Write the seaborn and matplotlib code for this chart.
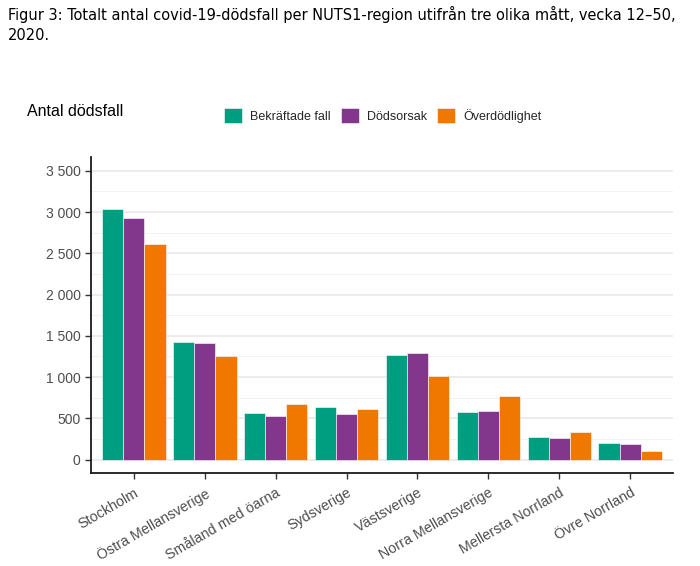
import matplotlib
matplotlib.use("Agg")
import matplotlib.pyplot as plt
import seaborn as sns
import pandas as pd
from matplotlib.ticker import FuncFormatter, MultipleLocator

regions = ["Stockholm", "Östra Mellansverige", "Småland med öarna", "Sydsverige",
           "Västsverige", "Norra Mellansverige", "Mellersta Norrland", "Övre Norrland"]
series = ["Bekräftade fall", "Dödsorsak", "Överdödlighet"]
bekraftade = [3040, 1420, 562, 638, 1268, 581, 275, 199]
dodsorsak = [2922, 1409, 533, 550, 1295, 593, 266, 186]
overdodlighet = [2617, 1252, 678, 614, 1010, 768, 332, 109]
colors = ["#009E80", "#82368C", "#F07800"]

rows = []
for s, vals in zip(series, [bekraftade, dodsorsak, overdodlighet]):
    for r, v in zip(regions, vals):
        rows.append({"Region": r, "Mått": s, "Antal": v})
df = pd.DataFrame(rows)

sns.set_theme(style="white")
plt.rcParams["font.family"] = ["Liberation Sans", "DejaVu Sans"]

W, H = 700, 566
fig = plt.figure(figsize=(W / 100, H / 100), dpi=100)
ax = fig.add_axes([91 / W, (H - 473.3) / H, (673 - 91) / W, (473.3 - 156.7) / H])

sns.barplot(data=df, x="Region", y="Antal", hue="Mått", order=regions, hue_order=series,
            palette=colors, width=0.9, errorbar=None, ax=ax, saturation=1,
            edgecolor="white", linewidth=0.4, zorder=3)

ax.set_xlim(-0.6, 7.6)
ax.set_ylim(-165, 3670)
ax.yaxis.set_major_locator(MultipleLocator(500))
ax.yaxis.set_minor_locator(MultipleLocator(250))
ax.yaxis.set_major_formatter(FuncFormatter(lambda v, p: f"{int(v):,}".replace(",", " ")))
ax.grid(axis="y", which="major", color="#EBEBEB", linewidth=1.3, zorder=0)
ax.grid(axis="y", which="minor", color="#F2F2F2", linewidth=0.7, zorder=0)
ax.set_axisbelow(True)
ax.set_xlabel("")
ax.set_ylabel("")
for s in ["top", "right"]:
    ax.spines[s].set_visible(False)
for s in ["left", "bottom"]:
    ax.spines[s].set_color("#1a1a1a")
    ax.spines[s].set_linewidth(1.3)
ax.tick_params(axis="both", which="major", length=4, width=1, color="#333333",
               labelcolor="#4D4D4D", labelsize=10, direction="out", left=True, bottom=True)
ax.tick_params(axis="x", which="major", labelsize=10.3, pad=5)
ax.tick_params(axis="y", which="minor", length=0)
plt.setp(ax.get_xticklabels(), rotation=30, ha="right", rotation_mode="anchor")

handles, labels = ax.get_legend_handles_labels()
ax.get_legend().remove()
fig.legend(handles, labels, loc="center left", bbox_to_anchor=(224 / W, 1 - 115.5 / H),
           ncol=3, frameon=False, fontsize=9, handlelength=1.44, handleheight=1.36,
           handletextpad=0.67, columnspacing=0.78, borderpad=0, borderaxespad=0)

fig.text(27 / W, 1 - 112 / H, "Antal dödsfall", fontsize=11.5, color="black",
         ha="left", va="center")

title = "Figur 3: Totalt antal covid-19-dödsfall per NUTS1-region utifrån tre olika mått, vecka 12–50,\n2020."
t = fig.text(8 / W, 1 - 6 / H, title, fontsize=11, color="black", ha="left", va="top",
             family="DejaVu Sans", fontstretch="condensed", linespacing=1.45)
fig.canvas.draw()
r = fig.canvas.get_renderer()
w = t.get_window_extent(r).width
t.set_fontsize(11 * 670 / w)

fig.savefig("out.png", dpi=100)
